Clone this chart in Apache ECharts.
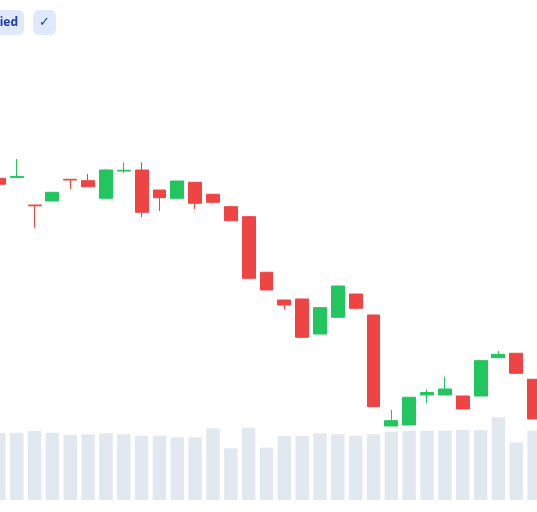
<!DOCTYPE html>
<html>
<head>
<meta charset="utf-8">
<script src="https://cdn.jsdelivr.net/npm/echarts@6/dist/echarts.min.js"></script>
<style>html,body{margin:0;padding:0;background:#fff;overflow:hidden;width:537px;height:512px;position:relative;}
#c{position:absolute;left:-10px;top:0;width:553px;height:512px;}</style>
</head>
<body>
<div id="c"></div>
<script>
// Categories (trading days)
const days = ['D1','D2','D3','D4','D5','D6','D7','D8','D9','D10','D11','D12','D13','D14','D15','D16',
  'D17','D18','D19','D20','D21','D22','D23','D24','D25','D26','D27','D28','D29','D30','D31'];
// OHLC values
const opens  = [180.43,180.6,173.75,174.75,180.18,179.83,175.43,182.25,182.5,177.5,175.43,179.43,176.43,173.33,170.83,156.93,150,150.25,141.5,145.68,151.5,146.25,118.5,118.75,126.25,126.25,126,126,135.58,136.68,130.18];
const closes = [178.93,180.9,173.55,176.93,180.0,178.33,182.5,182.43,171.93,175.58,179.75,174.18,174.43,169.83,155.43,152.5,148.75,140.68,148.08,153.5,147.93,123.33,119.83,125.68,126.88,127.75,122.75,134.83,136.43,131.68,120.25];
const lows   = [178.93,180.6,168.08,174.75,177.75,178.33,175.43,181.68,170.68,172.25,175.43,172.75,174.13,169.83,155.43,152.5,147.68,140.68,141.5,145.68,147.63,123.33,118.5,118.75,124.18,126.25,122.75,126,135.58,131.68,120.25];
const highs  = [180.43,185.25,173.75,176.93,180.18,181.5,182.75,184.43,184.43,177.5,179.75,179.43,176.43,173.33,171.0,156.93,150,150.25,148.08,153.5,151.5,146.25,122.5,125.68,127.68,130.83,126,134.83,137.25,136.68,130.18];
// Volume (millions)
const volumes = [6.7,6.73,6.9,6.73,6.5,6.57,6.67,6.57,6.43,6.43,6.27,6.27,7.17,5.17,7.23,5.23,6.4,6.4,6.67,6.57,6.43,6.57,6.83,6.93,6.93,6.93,7.0,7.0,8.27,5.77,6.93];
// Badge labels
const badges = ['ied', '✓'];

const ohlc = opens.map((o, i) => [o, closes[i], lows[i], highs[i]]);
const chart = echarts.init(document.getElementById('c'), null, {renderer: 'canvas'});
const OX = 10; // container offset
chart.setOption({
  animation: false,
  backgroundColor: '#ffffff',
  grid: [
    {left: 0, right: 0, top: 100, bottom: 12},
    {left: 0, right: 0, top: 400, bottom: 12}
  ],
  xAxis: [
    {type: 'category', data: days, gridIndex: 0, boundaryGap: true, show: false},
    {type: 'category', data: days, gridIndex: 1, boundaryGap: true, show: false}
  ],
  yAxis: [
    {type: 'value', gridIndex: 0, min: 100, max: 200, show: false, splitLine: {show: false}},
    {type: 'value', gridIndex: 1, min: 0, max: 10, show: false, splitLine: {show: false}}
  ],
  series: [
    {
      type: 'bar', name: 'Volume', xAxisIndex: 1, yAxisIndex: 1, data: volumes,
      barWidth: '75%', itemStyle: {color: '#e2e8f0'}, z: 1, silent: true
    },
    {
      type: 'candlestick', name: 'Price', xAxisIndex: 0, yAxisIndex: 0, data: ohlc,
      barWidth: '75%', z: 5,
      itemStyle: {
        color: '#22c55e', color0: '#ef4444',
        borderColor: '#22c55e', borderColor0: '#ef4444',
        borderColorDoji: '#22c55e', borderWidth: 1
      }
    }
  ],
  graphic: [
    {type: 'rect', shape: {x: OX - 40, y: 10, width: 64, height: 25, r: 6}, style: {fill: '#e0e9fb'}, z: 10},
    {type: 'text', x: OX + 18, y: 23, style: {text: badges[0], fill: '#1e40af', font: 'bold 12px "Noto Sans", sans-serif', align: 'right', verticalAlign: 'middle'}, z: 11},
    {type: 'rect', shape: {x: OX + 33, y: 10, width: 23, height: 25, r: 6}, style: {fill: '#e0e9fb'}, z: 10},
    {type: 'text', x: OX + 44.5, y: 23, style: {text: badges[1], fill: '#1e40af', font: 'bold 13px "DejaVu Sans", sans-serif', align: 'center', verticalAlign: 'middle'}, z: 11}
  ]
});
</script>
</body>
</html>
